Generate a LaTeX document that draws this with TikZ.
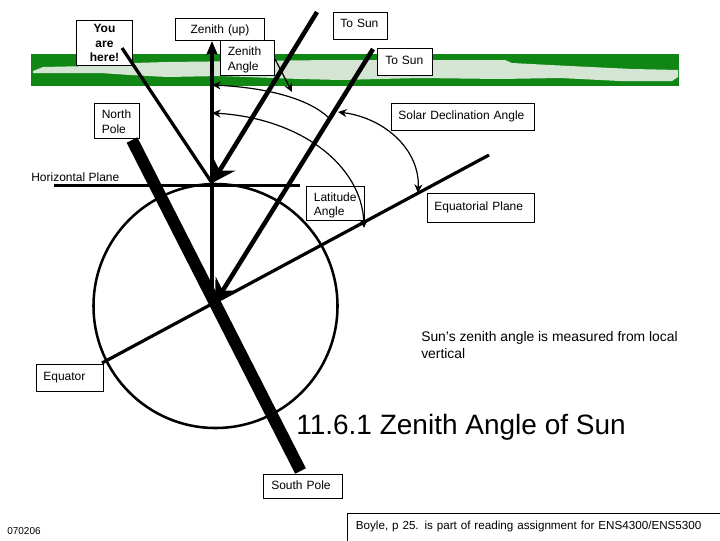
\documentclass[tikz,border=0pt]{standalone}
\usepackage{fontspec}
\setmainfont{Liberation Sans}
\usetikzlibrary{arrows.meta}
\definecolor{bandgreen}{RGB}{16,135,20}
\definecolor{bandlight}{RGB}{212,229,212}
\tikzset{
  x=0.75pt,y=-0.75pt,
  bx/.style 2 args={draw=black,line width=0.75pt,fill=white,inner ysep=0pt,inner xsep=5.5pt,
    minimum width=#1*0.75pt,minimum height=#2*0.75pt,text width=#1*0.75pt-11pt,align=left,
    font=\fontsize{9}{10.9}\selectfont},
  thinarc/.style={line width=0.9pt,-{Stealth[length=6.5pt,width=6pt]}},
  bothtips/.style={line width=0.9pt,{Stealth[length=6.5pt,width=6pt]}-{Stealth[length=6.5pt,width=6pt]}},
  sunline/.style={line width=3.4pt,-{Stealth[length=17pt,width=20pt,inset=6pt]}},
  plain/.style={inner sep=0pt,align=left,anchor=north west},
}
\begin{document}
\begin{tikzpicture}
\useasboundingbox (0,0) rectangle (720,540);
% green band
\fill[bandgreen] (31,54) rectangle (679,86);
\fill[bandlight] (33,71) -- (43,67) -- (90,66) -- (133,63) -- (167,62) -- (250,61) -- (330,60) -- (420,60) -- (505,60) -- (512,63) -- (550,65) -- (590,67) -- (633,69) -- (678,70) -- (678,77) -- (672,81) -- (620,81) -- (560,78) -- (500,79) -- (420,78) -- (340,80) -- (300,79) -- (220,76) -- (167,77) -- (130,75) -- (100,73) -- (33,73) -- cycle;
% boxes
\node[bx={56}{45.5},text depth=22pt,align=center,inner xsep=0pt,text width=42pt,font=\fontsize{9}{10.9}\selectfont\bfseries] (here) at (104.5,43.2) {You\\are\\here!};
\node[bx={89}{22},align=center,text depth=0pt] (zenith) at (220,29.5) {Zenith (up)};
\node[bx={54}{35.5},text depth=10pt] (zangle) at (247.5,58.2) {Zenith\\Angle};
\node[bx={54}{26.5},text depth=3pt] (sun1) at (360,25.8) {To Sun};
\node[bx={54.5}{27},text depth=2pt] (sun2) at (405.2,61.5) {To Sun};
\node[bx={143}{27},text depth=2pt] (solar) at (462.5,116.5) {Solar Declination Angle};
\node[bx={45}{35.5},text depth=10pt] (npole) at (117,121.2) {North\\Pole};
\node[bx={58}{34},text depth=10pt] (lat) at (335.5,203.5) {Latitude\\Angle};
\node[bx={107}{29},text depth=2pt] (eqpl) at (480.5,207.5) {Equatorial Plane};
\node[bx={67.5}{27},text depth=1pt] (equator) at (69.8,377.5) {Equator};
\node[bx={78.5}{24},text depth=1pt] (spole) at (303.2,486) {South Pole};
\node[bx={382}{40},text depth=12pt,inner xsep=6pt,font=\fontsize{8.75}{10.9}\selectfont] (boyle) at (539.5,533) {Boyle, p 25. is part of reading assignment for ENS4300/ENS5300};
% free labels
\node[plain,font=\fontsize{9}{10.9}\selectfont] (hplane) at (31,173) {Horizontal Plane};
\node[plain,font=\fontsize{10.4}{12.7}\selectfont] (note) at (421,331.5) {Sun's zenith angle is measured from local\\vertical};
\node[plain,font=\fontsize{21}{25}\selectfont] (title) at (296,414) {11.6.1 Zenith Angle of Sun};
\node[plain,font=\fontsize{7.5}{9}\selectfont] (date) at (7,527) {070206};
% anchor points
\coordinate (ec) at (215.5,306);
\coordinate (site) at (212,183);
\coordinate (centre) at (215,303);
\coordinate (ztip) at (212,41);
\coordinate (zbase) at (212,300);
\coordinate (npt) at (132,140);
\coordinate (spt) at (300.5,471);
\coordinate (hl) at (54,185.5);
\coordinate (hr) at (300,185.5);
\coordinate (eql) at (102,363);
\coordinate (eqr) at (489,155);
\coordinate (youstart) at (122,48);
\coordinate (s1top) at (317,12);
\coordinate (s2top) at (373,49);
% earth and lines
\draw[line width=1.9pt] (ec) circle[radius=91.5pt];
\draw[line width=1.6pt] (hl) -- (hr);
\draw[line width=9pt] (npt) -- (spt);
\draw[line width=2.4pt] (eql) -- (eqr);
\draw[line width=2.4pt,-{Stealth[length=10pt,width=8pt,inset=1pt]}] (zbase) -- (ztip);
\draw[line width=2.4pt] (youstart) -- (site);
\draw[sunline] (s1top) -- (site);
\draw[sunline] (s2top) -- (centre);
% angle arcs
\coordinate (za0) at (212,85);
\coordinate (za1) at (329,118);
\coordinate (la0) at (212,113);
\coordinate (la1) at (364,228);
\coordinate (so0) at (338,112);
\coordinate (so1) at (418,193);
\coordinate (zp0) at (275,59);
\coordinate (zp1) at (292,92);
\draw[thinarc] (za1) .. controls (305,95) and (255,87) .. (za0);
\draw[bothtips] (la0) .. controls (300,118) and (362,165) .. (la1);
\draw[bothtips] (so0) .. controls (385,118) and (420,150) .. (so1);
\draw[thinarc] (zp0) -- (zp1);
\end{tikzpicture}
\end{document}
